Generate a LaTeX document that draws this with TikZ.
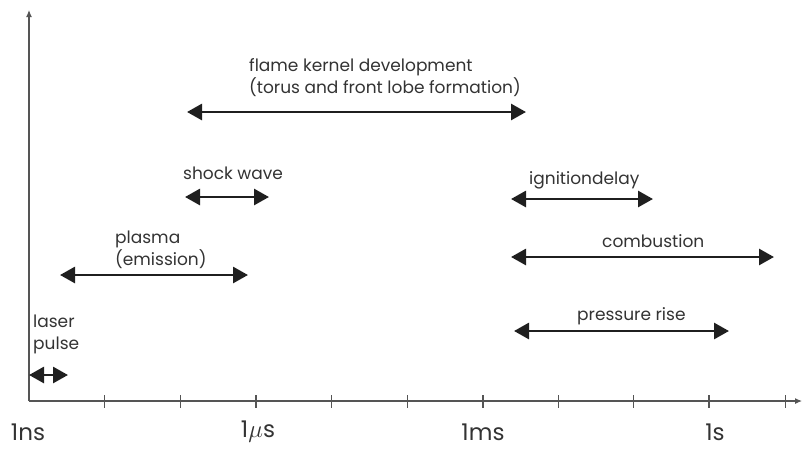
\documentclass[tikz,border=0pt]{standalone}
\usepackage{fontspec}
\setmainfont{Poppins}
\usetikzlibrary{arrows.meta}
\definecolor{txt}{HTML}{333333}
\definecolor{axis}{HTML}{555555}
\tikzset{
  span/.style={line width=2.8pt, black!88, {Triangle[length=15pt,width=16pt]}-{Triangle[length=15pt,width=16pt]}},
  axisline/.style={line width=1.1pt, axis},
  tickmark/.style={line width=1pt, axis},
  majortick/.style={line width=2pt, axis},
  lbl/.style={text=txt, font=\fontsize{17}{22}\selectfont, inner sep=0pt, align=left},
  ticklbl/.style={text=txt, font=\fontsize{23}{25}\selectfont, inner sep=0pt}
}
\begin{document}
\begin{tikzpicture}[x=1pt,y=-1pt]
\useasboundingbox (0,0) rectangle (803,451);
% axes
\coordinate (O) at (29,401);
\coordinate (ytop) at (29,10);
\coordinate (xend) at (802,401);
\draw[axisline,-{Latex[length=7pt,width=6pt]}] (O) -- (ytop);
\draw[axisline,-{Latex[length=7pt,width=6pt]}] (O) -- (xend);
% ticks
\foreach \k in {1,2,4,5,7,8,10} {
  \draw[tickmark] ({29+75.6*\k},395) -- ({29+75.6*\k},408);
}
\foreach \k in {3,6,9} {
  \draw[majortick] ({29+75.6*\k},395) -- ({29+75.6*\k},408);
}
\node[ticklbl] (tns) at (28,432) {1ns};
\node[ticklbl] (tus) at (258,432) {1$\mu$s};
\node[ticklbl] (tms) at (483,432) {1ms};
\node[ticklbl] (ts) at (715,432) {1s};
% laser pulse
\coordinate (lpA) at (29,375);
\coordinate (lpB) at (68,375);
\draw[span] (lpA) -- (lpB);
\node[lbl, anchor=west] (lp) at (33,334) {laser\\pulse};
% plasma
\coordinate (plA) at (60,275);
\coordinate (plB) at (248,275);
\draw[span] (plA) -- (plB);
\node[lbl, anchor=west] (pl) at (115,250) {plasma\\(emission)};
% shock wave
\coordinate (swA) at (185,197);
\coordinate (swB) at (269,197);
\draw[span] (swA) -- (swB);
\node[lbl, anchor=west] (sw) at (183,173) {shock wave};
% flame kernel
\coordinate (fkA) at (187,112);
\coordinate (fkB) at (526,112);
\draw[span] (fkA) -- (fkB);
\node[lbl, anchor=west] (fk) at (249,78) {flame kernel development\\(torus and front lobe formation)};
% ignition delay
\coordinate (idA) at (511,199);
\coordinate (idB) at (653,199);
\draw[span] (idA) -- (idB);
\node[lbl, anchor=west] (id) at (529,180) {ignitiondelay};
% combustion
\coordinate (cbA) at (511,257);
\coordinate (cbB) at (774,257);
\draw[span] (cbA) -- (cbB);
\node[lbl, anchor=west] (cb) at (602,241) {combustion};
% pressure rise
\coordinate (prA) at (514,331);
\coordinate (prB) at (729,331);
\draw[span] (prA) -- (prB);
\node[lbl, anchor=west] (pr) at (577,316) {pressure rise};
\end{tikzpicture}
\end{document}
